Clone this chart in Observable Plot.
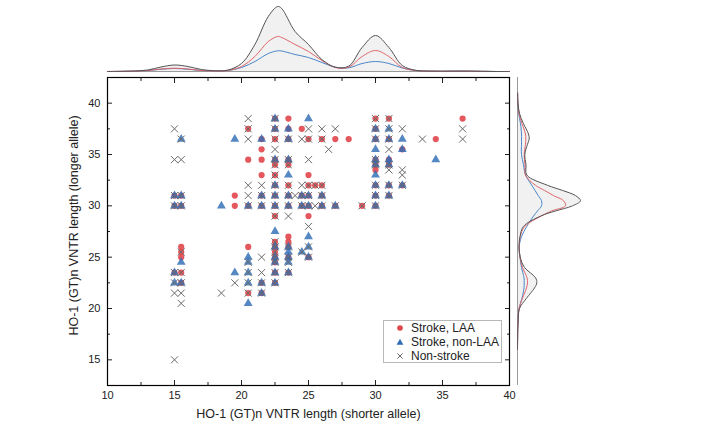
<!DOCTYPE html>
<html><head><meta charset="utf-8">
<script src="https://cdn.jsdelivr.net/npm/d3@7"></script>
<script src="https://cdn.jsdelivr.net/npm/@observablehq/plot@0.6"></script>
<style>
body{margin:0;background:#fff;font-family:"Liberation Sans",Arial,sans-serif;}
#wrap{position:relative;width:715px;height:426px;overflow:hidden;}
#wrap svg{position:absolute;left:0;top:0;background:transparent !important;}
#legend{position:absolute;left:383px;top:320px;width:119px;height:43px;border:1px solid #b8b8b8;background:#fff;font-size:12px;color:#222;box-sizing:border-box;}
#legend .row{position:absolute;left:0;height:14px;line-height:14px;white-space:nowrap;}
#legend .row svg{position:absolute;left:12px;top:3px;}
#legend .row span{position:absolute;left:27px;top:0;}
</style></head><body><div id="wrap"></div>
<script>
// ---- data (x = shorter allele, y = longer allele) ----
const laa = [
[15,31],[15,30],[15,23.5],
[15.5,31],[15.5,30],[15.5,26],[15.5,25.5],[15.5,25],[15.5,23.5],[15.5,22.5],
[19.5,31],[19.5,30],
[20.5,37.5],[20.5,34.5],[20.5,30],[20.5,26],[20.5,21.5],
[21.5,36.5],[21.5,35.5],[21.5,34.5],[21.5,33],[21.5,31],[21.5,30],[21.5,22.5],[21.5,21.5],
[22.5,38.5],[22.5,37.5],[22.5,36.5],[22.5,34.5],[22.5,34],[22.5,33],[22.5,32],[22.5,31],[22.5,30],[22.5,29],[22.5,26.5],[22.5,26],[22.5,25.5],[22.5,25],[22.5,24.5],[22.5,23.5],[22.5,22.5],
[23.5,38.5],[23.5,37.5],[23.5,36.5],[23.5,34.5],[23.5,34],[23.5,32],[23.5,31],[23.5,30],[23.5,27],[23.5,26.5],[23.5,26],[23.5,25],[23.5,23.5],
[24.5,37.5],[24.5,31],[24.5,30],
[25,36.5],[25,33],[25,32],[25,31],[25,30],[25,29],[25,25],
[25.5,32],
[26,36.5],[26,32],[26,31],[26,30],
[27,36.5],[27,30],
[28,36.5],
[29,30],
[30,38.5],[30,37.5],[30,36.5],[30,34.5],[30,34],[30,33.5],[30,32],[30,31],[30,30],
[31,38.5],[31,36.5],[31,34.5],[31,34],[31,32],[31,31],
[32,35.5],[32,32],
[34.5,36.5],
[36.5,38.5]
];
const nonLaa = [
[15,31],[15,30],[15,23.5],[15,22.5],
[15.5,36.5],[15.5,31],[15.5,30],[15.5,24.5],[15.5,22.5],
[18.5,30],
[19.5,36.5],[19.5,23.5],
[20.5,30],[20.5,25],[20.5,24.5],[20.5,23.5],[20.5,22.5],[20.5,20.5],
[21.5,36.5],[21.5,31],[21.5,30],[21.5,22.5],[21.5,21.5],
[22.5,38.5],[22.5,37.5],[22.5,34.5],[22.5,32],[22.5,31],[22.5,30],[22.5,27.5],[22.5,26],[22.5,25],[22.5,24.5],[22.5,23.5],[22.5,22.5],
[23.5,37.5],[23.5,36.5],[23.5,34.5],[23.5,33],[23.5,31],[23.5,30],[23.5,26],[23.5,25.5],[23.5,25],[23.5,24.5],[23.5,23.5],
[24.5,31],[24.5,30],[24.5,25.5],
[25,38.5],[25,31],[25,30],[25,27],[25,26],[25,25],
[26,31],[26,30],
[27,30],
[30,37.5],[30,36.5],[30,35.5],[30,34.5],[30,34],[30,33],[30,32],[30,31],[30,30],
[31,37.5],[31,36.5],[31,34.5],[31,34],[31,32],[31,31],
[32,36.5],[32,35.5],[32,32],
[34.5,34.5]
];
const nonStroke = [
[15,37.5],[15,34.5],[15,31],[15,30],[15,23.5],[15,22.5],[15,21.5],[15,15],
[15.5,36.5],[15.5,34.5],[15.5,31],[15.5,30],[15.5,25.5],[15.5,23.5],[15.5,22.5],[15.5,21.5],[15.5,20.5],
[18.5,21.5],
[19.5,22.5],
[20.5,38.5],[20.5,37.5],[20.5,36.5],[20.5,32],[20.5,31],[20.5,30],[20.5,24.5],[20.5,23.5],[20.5,22.5],[20.5,21.5],
[21.5,32],[21.5,31],[21.5,30],[21.5,25],[21.5,23.5],[21.5,22.5],[21.5,21.5],
[22.5,38.5],[22.5,37.5],[22.5,36.5],[22.5,35.5],[22.5,34.5],[22.5,34],[22.5,33],[22.5,32],[22.5,31],[22.5,30],[22.5,29],[22.5,26.5],[22.5,26],[22.5,25.5],[22.5,25],[22.5,24.5],[22.5,23.5],[22.5,22.5],
[23.5,36.5],[23.5,34.5],[23.5,34],[23.5,32],[23.5,31],[23.5,30],[23.5,29],[23.5,26],[23.5,25],[23.5,24.5],[23.5,23.5],
[24,31],
[24.5,36.5],[24.5,32],[24.5,31],[24.5,30],[24.5,25.5],
[25,37.5],[25,36.5],[25,34.5],[25,32],[25,31],[25,30],[25,28],[25,26],[25,25],
[25.5,32],[25.5,30],
[26,37.5],[26,36.5],[26,32],[26,31],[26,30],
[26.5,35.5],
[27,37.5],[27,30],
[29,30],
[30,38.5],[30,37.5],[30,36.5],[30,34.5],[30,34],[30,32],[30,31],[30,30],
[31,38.5],[31,37.5],[31,36.5],[31,35.5],[31,34],[31,33.5],[31,32],[31,31],
[32,37.5],[32,33.5],[32,33],[32,32],
[33.5,36.5],
[36.5,37.5],[36.5,36.5]
];

// marginal densities (relative heights)
const topX   = [10,11,12,13,14,15,16,17,18,19,20,21,22,22.7,23,24,25,26,27,28,29,30,31,32,33,34,35,36,37,38,39,40];
const topAll = [0,0.2,0.5,1.5,4.5,6.5,5,2,0.8,1.5,8,27,55,65,63,40,27,12,4.3,5.3,24,36,24,6,1.2,0.4,0.3,0.4,0.4,0.2,0,0];
const topLaa = [0,0.1,0.3,1,2.5,3.3,2.5,1,0.4,1,5,15,30,35,34,27,20,11,4,4.3,15,21,15,4,1,0.3,0.2,0.2,0.2,0.1,0,0];
const topNon = [0,0.1,0.3,1,2.2,3,2.2,1,0.4,1,4,10,18,20.7,20.5,17,14,9,4.3,3.7,8,10,8,3.5,1,0.4,0.3,0.5,0.4,0.2,0,0];

const rightY   = [16,17,18,19,20,21,22,22.5,23,24,25,26,27,28,29,29.5,30,30.5,31,31.5,32,33,34,35,36,36.5,37,38,39,40,41];
const rightAll = [0,0.1,0.3,0.8,2,9,17,19.3,18,7,2.7,1.5,2.5,6,23,38,55,63,58,45,30,9.3,8.5,7.3,10,11.7,11,6,2,0.5,0.1];
const rightLaa = [0,0.1,0.2,0.6,1.5,5,9,10,9.5,5,2.5,1.8,2.7,7.3,23.7,34,48,46,36,27,18,8,7.5,6.7,8,8.3,8,4.5,1.5,0.4,0.1];
const rightNon = [0,0.1,0.2,0.5,1.5,4.5,6.5,6.7,6.5,4,2.5,1.7,4,9.3,16,20,24,24,20.7,17.5,14.3,8,6,4,4,4,4,3,1.2,0.3,0.1];

const xMajor = [10,15,20,25,30,35,40];
const xMinor = [12.5,17.5,22.5,27.5,32.5,37.5];
const yMajor = [15,20,25,30,35,40];
const yMinor = [17.5,22.5,27.5,32.5,37.5];

const RED = "#e0454b", BLUE = "#2f6db5", GREY = "#6a6a6a";
const xLabel = "HO-1 (GT)n VNTR length (shorter allele)";
const yLabel = "HO-1 (GT)n VNTR length (longer allele)";

const wrap = document.getElementById("wrap");
const blank = () => "";

const main = Plot.plot({
  width: 715, height: 426,
  marginLeft: 107, marginRight: 206, marginTop: 77, marginBottom: 41,
  style: {fontFamily: '"Liberation Sans", Arial, sans-serif', color: "#222", background: "transparent"},
  x: {domain: [10, 40]},
  y: {domain: [12.5, 42.5]},
  marks: [
    Plot.dot(laa, {x: d => d[0], y: d => d[1], symbol: "circle", r: 3.1, fill: RED, fillOpacity: 0.9}),
    Plot.dot(nonLaa, {x: d => d[0], y: d => d[1], symbol: "triangle", r: 3.3, fill: BLUE, fillOpacity: 0.82}),
    Plot.dot(nonStroke, {x: d => d[0], y: d => d[1], symbol: "times", r: 3.3, stroke: GREY, strokeWidth: 1}),
    Plot.axisX(xMajor, {anchor: "bottom", tickSize: -5, tickPadding: 11, fontSize: 11, label: null}),
    Plot.axisX(xMinor, {anchor: "bottom", tickSize: -3, tickFormat: blank, label: null}),
    Plot.axisX(xMajor, {anchor: "top", tickSize: -5, tickFormat: blank, label: null}),
    Plot.axisX(xMinor, {anchor: "top", tickSize: -3, tickFormat: blank, label: null}),
    Plot.axisY(yMajor, {anchor: "left", tickSize: -5, tickPadding: 12, fontSize: 11, label: null}),
    Plot.axisY(yMinor, {anchor: "left", tickSize: -3, tickFormat: blank, label: null}),
    Plot.axisY(yMajor, {anchor: "right", tickSize: -5, tickFormat: blank, label: null}),
    Plot.axisY(yMinor, {anchor: "right", tickSize: -3, tickFormat: blank, label: null}),
    Plot.frame({stroke: "#000", strokeWidth: 1.2}),
    Plot.text([xLabel], {frameAnchor: "bottom", dy: 28, lineAnchor: "middle", textAnchor: "middle", text: d => d, fontSize: 12.5, fill: "#222"}),
    Plot.text([yLabel], {frameAnchor: "left", dx: -34, dy: -6, rotate: -90, lineAnchor: "middle", textAnchor: "middle", text: d => d, fontSize: 12.5, fill: "#222"})
  ]
});
wrap.appendChild(main);

const topRows = topX.map((x, i) => ({x, all: topAll[i], laa: topLaa[i], non: topNon[i]}));
const topPlot = Plot.plot({
  width: 715, height: 77,
  marginLeft: 107, marginRight: 206, marginTop: 0, marginBottom: 6,
  style: {background: "transparent"},
  x: {domain: [10, 40], axis: null},
  y: {domain: [0, 71], axis: null},
  marks: [
    Plot.areaY(topRows, {x: "x", y: "all", fill: "#f1f1f1", curve: "catmull-rom"}),
    Plot.ruleY([0], {stroke: "#9a9a9a", strokeWidth: 1}),
    Plot.lineY(topRows, {x: "x", y: "non", stroke: "#4a86c8", strokeWidth: 1, curve: "catmull-rom"}),
    Plot.lineY(topRows, {x: "x", y: "laa", stroke: "#e0666b", strokeWidth: 1, curve: "catmull-rom"}),
    Plot.lineY(topRows, {x: "x", y: "all", stroke: "#555", strokeWidth: 1, curve: "catmull-rom"})
  ]
});
wrap.appendChild(topPlot);

const rightRows = rightY.map((y, i) => ({y, all: rightAll[i], laa: rightLaa[i], non: rightNon[i]}));
const rightPlot = Plot.plot({
  width: 715, height: 426,
  marginLeft: 517, marginRight: 118, marginTop: 77, marginBottom: 41,
  style: {background: "transparent"},
  x: {domain: [0, 80], axis: null},
  y: {domain: [12.5, 42.5], axis: null},
  marks: [
    Plot.areaX(rightRows, {y: "y", x: "all", fill: "#f1f1f1", curve: "catmull-rom"}),
    Plot.ruleX([0], {stroke: "#9a9a9a", strokeWidth: 1}),
    Plot.lineX(rightRows, {y: "y", x: "non", stroke: "#4a86c8", strokeWidth: 1, curve: "catmull-rom"}),
    Plot.lineX(rightRows, {y: "y", x: "laa", stroke: "#e0666b", strokeWidth: 1, curve: "catmull-rom"}),
    Plot.lineX(rightRows, {y: "y", x: "all", stroke: "#555", strokeWidth: 1, curve: "catmull-rom"})
  ]
});
wrap.appendChild(rightPlot);

// legend
const legendItems = [
  {label: "Stroke, LAA", sym: `<circle cx="4" cy="4" r="2.8" fill="${RED}"/>`},
  {label: "Stroke, non-LAA", sym: `<path d="M4,0.8L7.4,6.8L0.6,6.8Z" fill="${BLUE}"/>`},
  {label: "Non-stroke", sym: `<path d="M1.3,1.3L6.7,6.7M6.7,1.3L1.3,6.7" stroke="${GREY}" stroke-width="1"/>`}
];
const leg = document.createElement("div");
leg.id = "legend";
legendItems.forEach((it, i) => {
  const row = document.createElement("div");
  row.className = "row";
  row.style.top = (0 + i * 14) + "px";
  row.innerHTML = `<svg width="8" height="8" viewBox="0 0 8 8">${it.sym}</svg><span>${it.label}</span>`;
  leg.appendChild(row);
});
wrap.appendChild(leg);
</script></body></html>
